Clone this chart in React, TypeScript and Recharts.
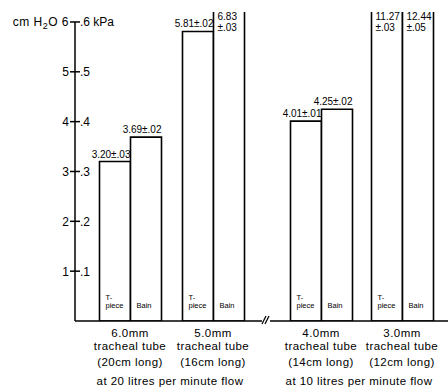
import React from "react";
import { BarChart, Bar, XAxis, YAxis, LabelList, ReferenceLine, Label } from "recharts";

const tubeSizes = ["6.0mm", "5.0mm", "4.0mm", "3.0mm"];
const tubeLengths = ["(20cm long)", "(16cm long)", "(14cm long)", "(12cm long)"];
const tubeWord = "tracheal tube";
const tPieceMeans = [3.2, 5.81, 4.01, 11.27];
const tPieceSDs = [0.03, 0.02, 0.01, 0.03];
const bainMeans = [3.69, 6.83, 4.25, 12.44];
const bainSDs = [0.02, 0.03, 0.02, 0.05];
const flowLabels = ["at 20 litres per minute flow", "at 10 litres per minute flow"];
const cmTicks = [1, 2, 3, 4, 5, 6];
const seriesNames = ["T-piece", "Bain"];
const leftUnitParts = ["cm H", "2", "O"];
const rightUnit = "kPa";

const Y_MAX = 6.2;
const PLOT_TOP = 12;
const FONT = "'Liberation Sans', Arial, sans-serif";

type Row = { size: string; length: string; t: number; tSD: number; b: number; bSD: number };
const rows: Row[] = tubeSizes.map((size, i) => ({
  size,
  length: tubeLengths[i],
  t: tPieceMeans[i],
  tSD: tPieceSDs[i],
  b: bainMeans[i],
  bSD: bainSDs[i],
}));
const leftRows = rows.slice(0, 2);
const rightRows = rows.slice(2);

const fmtSD = (sd: number) => "\u00b1" + sd.toFixed(2).replace(/^0/, "");

const makeValueLabel = (data: Row[], meanKey: "t" | "b", sdKey: "tSD" | "bSD") => (props: any) => {
  const { x, y, width, index } = props;
  const row = data[index];
  if (!row) return null;
  const mean = row[meanKey];
  const sd = fmtSD(row[sdKey]);
  if (mean > Y_MAX) {
    const tx = Number(x) + 4;
    return (
      <text x={tx} y={PLOT_TOP + 8} fontSize={10} fontFamily={FONT} fill="#000">
        <tspan x={tx}>{mean.toFixed(2)}</tspan>
        <tspan x={tx} dy={11}>{sd}</tspan>
      </text>
    );
  }
  return (
    <text x={Number(x) + Number(width)} y={Number(y) - 4} textAnchor="end" fontSize={10} fontFamily={FONT} fill="#000">
      {mean.toFixed(2) + sd}
    </text>
  );
};

const makeNameLabel = (name: string) => (props: any) => {
  const { x, y, height } = props;
  const bottom = Number(y) + Number(height);
  const dash = name.indexOf("-");
  const parts = dash >= 0 ? [name.slice(0, dash + 1), name.slice(dash + 1).toLowerCase()] : [name];
  const tx = Number(x) + 6;
  if (parts.length === 2) {
    return (
      <text fontSize={7.5} fontFamily={FONT} fill="#000">
        <tspan x={tx} y={bottom - 21.5}>{parts[0]}</tspan>
        <tspan x={tx} y={bottom - 13}>{parts[1]}</tspan>
      </text>
    );
  }
  return (
    <text x={tx} y={bottom - 13} fontSize={7.5} fontFamily={FONT} fill="#000">
      {parts[0]}
    </text>
  );
};

const YTick = (props: any) => {
  const { x, y, payload } = props;
  const v = payload.value as number;
  const isTop = v === cmTicks[cmTicks.length - 1];
  const kpa = (v / 10).toFixed(1).replace(/^0/, "");
  return (
    <g>
      <line x1={x - 5} x2={x + 5} y1={y} y2={y} stroke="#000" strokeWidth={1.5} />
      <text x={x - 6} y={y + 4.5} textAnchor="end" fontSize={12} fontFamily={FONT} fill="#000" letterSpacing={isTop ? 0.5 : 0}>
        {isTop ? (
          <>
            <tspan>{leftUnitParts[0]}</tspan>
            <tspan dy={3} fontSize={9}>{leftUnitParts[1]}</tspan>
            <tspan dy={-3}>{leftUnitParts[2] + " " + v}</tspan>
          </>
        ) : (
          String(v)
        )}
      </text>
      <text x={x + 5} y={y + 4.5} textAnchor="start" fontSize={12} fontFamily={FONT} fill="#000">
        {isTop ? kpa + " " + rightUnit : kpa}
      </text>
    </g>
  );
};

const XTick = (props: any) => {
  const { x, y, payload } = props;
  const i = tubeSizes.indexOf(payload.value);
  return (
    <g fontFamily={FONT} fontSize={11.5} fill="#000" letterSpacing={0.45}>
      <text x={x} y={y + 16} textAnchor="middle">{tubeSizes[i]}</text>
      <text x={x} y={y + 28.5} textAnchor="middle">{tubeWord}</text>
      <text x={x} y={y + 45} textAnchor="middle">{tubeLengths[i]}</text>
    </g>
  );
};

const barProps = {
  fill: "#fff",
  stroke: "#000",
  strokeWidth: 1.6,
  isAnimationActive: false,
};

export default function App() {
  return (
    <div style={{ position: "absolute", left: 0, top: 0, width: 448, height: 388, background: "#fff" }}>
      <div style={{ position: "absolute", left: 0, top: 0 }}>
        <BarChart width={262} height={388} data={leftRows} margin={{ top: PLOT_TOP, right: 0, bottom: 0, left: 0 }} barSize={31} barGap={0}>
          <XAxis
            dataKey="size"
            height={67}
            padding={{ left: 13.5, right: 7.5 }}
            tickLine={false}
            tickSize={0}
            tickMargin={0}
            tick={<XTick />}
            axisLine={{ stroke: "#000", strokeWidth: 1.6 }}
            interval={0}
          >
            <Label value={flowLabels[0]} position="insideBottom" offset={3} dx={1.5} fontSize={11.5} letterSpacing={0.45} fontFamily={FONT} fill="#000" />
          </XAxis>
          <XAxis xAxisId="n" type="number" domain={[0, 1]} hide />
          <YAxis
            width={75}
            domain={[0, Y_MAX]}
            allowDataOverflow
            ticks={cmTicks}
            tickLine={false}
            tickSize={0}
            tickMargin={0}
            axisLine={false}
            tick={<YTick />}
          />
          <ReferenceLine
            xAxisId="n"
            segment={[
              { x: 0, y: 0 },
              { x: 0, y: cmTicks[cmTicks.length - 1] },
            ]}
            stroke="#000"
            strokeWidth={1.5}
          />
          <Bar dataKey="t" name={seriesNames[0]} {...barProps}>
            <LabelList dataKey="t" content={makeValueLabel(leftRows, "t", "tSD")} />
            <LabelList dataKey="t" content={makeNameLabel(seriesNames[0])} />
          </Bar>
          <Bar dataKey="b" name={seriesNames[1]} {...barProps}>
            <LabelList dataKey="b" content={makeValueLabel(leftRows, "b", "bSD")} />
            <LabelList dataKey="b" content={makeNameLabel(seriesNames[1])} />
          </Bar>
        </BarChart>
      </div>
      <div style={{ position: "absolute", left: 266, top: 0 }}>
        <BarChart width={182} height={388} data={rightRows} margin={{ top: PLOT_TOP, right: 0, bottom: 0, left: 4 }} barSize={31} barGap={0}>
          <XAxis
            dataKey="size"
            height={67}
            padding={{ left: 10.5, right: 5.5 }}
            tickLine={false}
            tickSize={0}
            tickMargin={0}
            tick={<XTick />}
            axisLine={{ stroke: "#000", strokeWidth: 1.6 }}
            interval={0}
          >
            <Label value={flowLabels[1]} position="insideBottom" offset={3} dx={0} fontSize={11.5} letterSpacing={0.45} fontFamily={FONT} fill="#000" />
          </XAxis>
          <YAxis hide domain={[0, Y_MAX]} allowDataOverflow />
          <Bar dataKey="t" name={seriesNames[0]} {...barProps}>
            <LabelList dataKey="t" content={makeValueLabel(rightRows, "t", "tSD")} />
            <LabelList dataKey="t" content={makeNameLabel(seriesNames[0])} />
          </Bar>
          <Bar dataKey="b" name={seriesNames[1]} {...barProps}>
            <LabelList dataKey="b" content={makeValueLabel(rightRows, "b", "bSD")} />
            <LabelList dataKey="b" content={makeNameLabel(seriesNames[1])} />
          </Bar>
        </BarChart>
      </div>
      <svg style={{ position: "absolute", left: 0, top: 0, pointerEvents: "none" }} width={448} height={388}>
        <line x1={262} y1={324} x2={266} y2={316} stroke="#000" strokeWidth={1.2} />
        <line x1={265} y1={324} x2={269} y2={316} stroke="#000" strokeWidth={1.2} />
      </svg>
    </div>
  );
}
